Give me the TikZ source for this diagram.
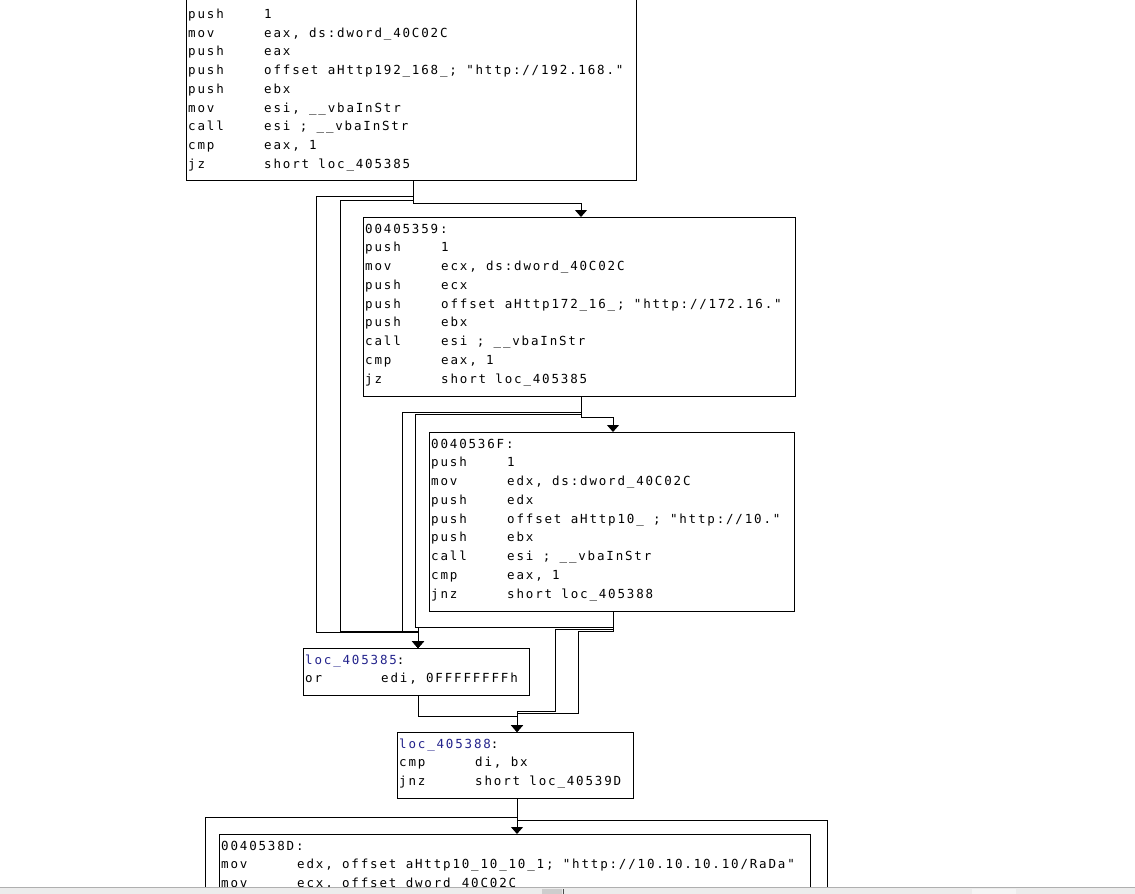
\documentclass[tikz,border=0pt]{standalone}
\usepackage{fontspec}
\usetikzlibrary{arrows.meta}
\newfontfamily\codefont{DejaVu Sans Mono}[LetterSpace=14.6,Ligatures=TeXOff]
\definecolor{locblue}{RGB}{35,35,140}
\definecolor{barbg}{RGB}{236,236,236}
\definecolor{barline}{RGB}{175,175,175}
\definecolor{tabgrey}{RGB}{205,205,205}
\newcommand\asm[2]{\makebox[76pt][l]{#1}#2}
\begin{document}
\begin{tikzpicture}[x=1pt,y=-1pt,
  blk/.style={draw=black, line width=1pt, rectangle, inner sep=0pt, anchor=north west, fill=white},
  code/.style={anchor=base west, inner sep=0pt, font={\codefont\fontsize{12.5}{18.75}\selectfont}, text=black},
  edge/.style={draw=black, line width=1pt},
  arr/.style={edge, -{Triangle[length=7pt,width=12pt]}}]
\useasboundingbox (0,0) rectangle (1135,894);
\clip (0,0) rectangle (1135,894);
\fill[white] (0,0) rectangle (1135,894);

% column coordinates for connectors
\coordinate (xA) at (413,0);
\coordinate (xB) at (581,0);
\coordinate (xC) at (613,0);
\coordinate (xD) at (418,0);
\coordinate (xE) at (517,0);
\coordinate (loopL) at (205,894);
\coordinate (loopR) at (827,894);

% blocks
\node[blk, minimum width=450pt, minimum height=200pt] (A) at (186,-20) {};
\node[blk, minimum width=432pt, minimum height=179pt] (B) at (363,217) {};
\node[blk, minimum width=365pt, minimum height=178.5pt] (C) at (429,432) {};
\node[blk, minimum width=226pt, minimum height=47pt] (D) at (303,648) {};
\node[blk, minimum width=236pt, minimum height=66pt] (E) at (397,732) {};
\node[blk, minimum width=591pt, minimum height=200pt] (F) at (219,834) {};

% texts
\node[code] (At) at (188,18.3) {\begin{tabular}[t]{@{}l@{}}
\asm{push}{1}\\
\asm{mov}{eax, ds:dword\_40C02C}\\
\asm{push}{eax}\\
\asm{push}{offset aHttp192\_168\_; "http://192.168."}\\
\asm{push}{ebx}\\
\asm{mov}{esi, \_\_vbaInStr}\\
\asm{call}{esi ; \_\_vbaInStr}\\
\asm{cmp}{eax, 1}\\
\asm{jz}{short loc\_405385}
\end{tabular}};

\node[code] (Bt) at (365,233) {\begin{tabular}[t]{@{}l@{}}
00405359:\\
\asm{push}{1}\\
\asm{mov}{ecx, ds:dword\_40C02C}\\
\asm{push}{ecx}\\
\asm{push}{offset aHttp172\_16\_; "http://172.16."}\\
\asm{push}{ebx}\\
\asm{call}{esi ; \_\_vbaInStr}\\
\asm{cmp}{eax, 1}\\
\asm{jz}{short loc\_405385}
\end{tabular}};

\node[code] (Ct) at (431,448) {\begin{tabular}[t]{@{}l@{}}
0040536F:\\
\asm{push}{1}\\
\asm{mov}{edx, ds:dword\_40C02C}\\
\asm{push}{edx}\\
\asm{push}{offset aHttp10\_ ; "http://10."}\\
\asm{push}{ebx}\\
\asm{call}{esi ; \_\_vbaInStr}\\
\asm{cmp}{eax, 1}\\
\asm{jnz}{short loc\_405388}
\end{tabular}};

\node[code] (Dt) at (305,664) {\begin{tabular}[t]{@{}l@{}}
{\color{locblue}loc\_405385}:\\
\asm{or}{edi, 0FFFFFFFFh}
\end{tabular}};

\node[code] (Et) at (399,748) {\begin{tabular}[t]{@{}l@{}}
{\color{locblue}loc\_405388}:\\
\asm{cmp}{di, bx}\\
\asm{jnz}{short loc\_40539D}
\end{tabular}};

\node[code] (Ft) at (221,850) {\begin{tabular}[t]{@{}l@{}}
0040538D:\\
\asm{mov}{edx, offset aHttp10\_10\_10\_1; "http://10.10.10.10/RaDa"}\\
\asm{mov}{ecx, offset dword\_40C02C}
\end{tabular}};

% connectors
\draw[arr] (A.south -| xA) -- ++(0,22) -| (B.north -| xB);
\draw[arr] (A.south -| xA) -- ++(0,15) -| (316,632) -| (D.north -| xD);
\draw[arr] (A.south -| xA) -- ++(0,19) -| (340,631) -| (D.north -| xD);
\draw[arr] (B.south -| xB) -- ++(0,20) -| (C.north -| xC);
\draw[arr] (B.south -| xB) -- ++(0,15) -| (402,631) -| (D.north -| xD);
\draw[arr] (B.south -| xB) -- ++(0,17) -| (415,627) -| (D.north -| xD);
\draw[arr] (C.south -| xC) -- ++(0,15.5) -| (D.north -| xD);
\draw[arr] (C.south -| xC) -- ++(0,18) -| (555,711) -| (E.north -| xE);
\draw[arr] (C.south -| xC) -- ++(0,20) -| (578,713) -| (E.north -| xE);
\draw[arr] (D.south -| xD) -- ++(0,20) -| (E.north -| xE);
\draw[arr] (E.south -| xE) -- (F.north -| xE);
\draw[edge] (E.south -| xE) -- ++(0,18) -| (loopL);
\draw[edge] (E.south -| xE) -- ++(0,21) -| (loopR);

% window scroll bar at the bottom
\fill[barbg] (0,887) rectangle (1135,894);
\draw[barline, line width=1pt] (0,887.5) -- (1135,887.5);
\fill[tabgrey] (542,889) rectangle (562,894);
\draw[black!70, line width=1pt] (563,889) -- (563,894);
\fill[white!96!black] (972,889) rectangle (1016,894);
\end{tikzpicture}
\end{document}
